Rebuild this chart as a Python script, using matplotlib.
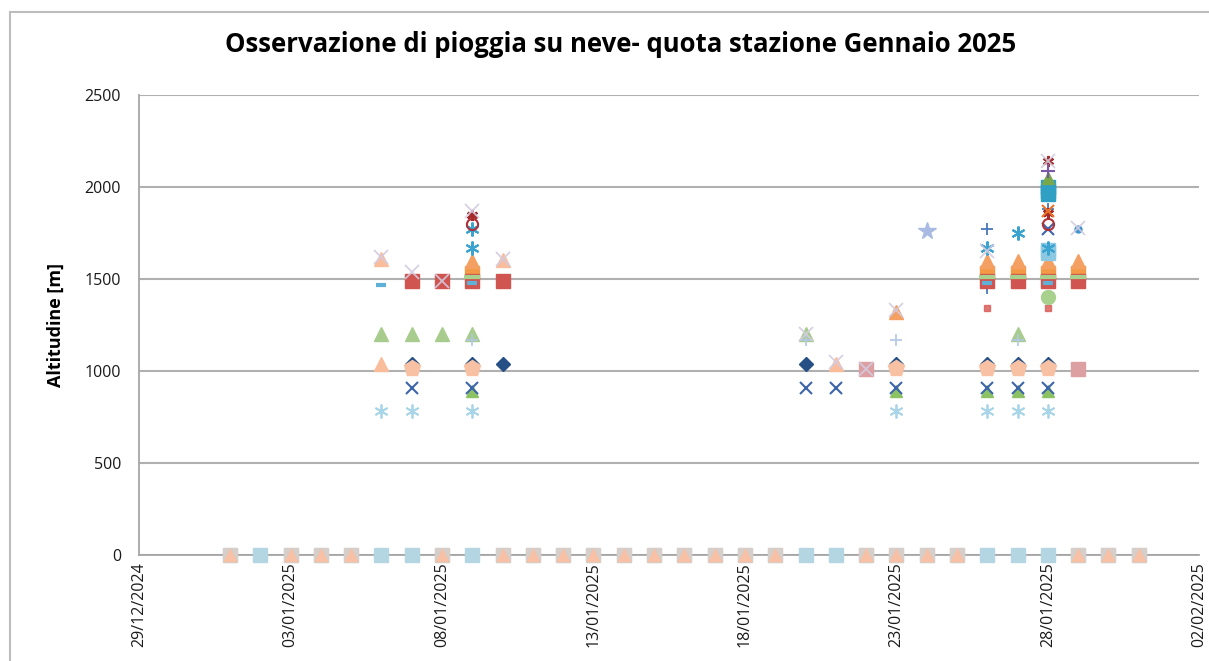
import datetime as dt
import matplotlib
matplotlib.use("Agg")
import matplotlib.pyplot as plt
import matplotlib.dates as mdates
from matplotlib.patches import Rectangle

# ---- data: giorni di gennaio 2025 e quote osservate [m] ----
zero_giorni = list(range(1, 32))
zero_quota = [0] * 31
zero_rosa_giorni = [1, 3, 4, 5, 8, 10, 11, 12, 13, 14, 15, 16, 17, 18, 19, 22, 23, 24, 25, 29, 30, 31]
zero_rosa_quota = [0] * len(zero_rosa_giorni)

asterisco_chiaro_giorni = [6, 7, 9, 23, 26, 27, 28]
asterisco_chiaro_quota = [780, 780, 780, 780, 780, 780, 780]

triangolo_verde_giorni = [9, 23, 26, 27, 28]
triangolo_verde_quota = [890, 890, 890, 890, 890]

x_blu_giorni = [7, 9, 20, 21, 23, 26, 27, 28, 28]
x_blu_quota = [910, 910, 910, 910, 910, 910, 910, 910, 1770]

rombo_blu_giorni = [7, 9, 10, 20, 23, 26, 27, 28]
rombo_blu_quota = [1040, 1040, 1040, 1040, 1040, 1040, 1040, 1040]

pentagono_pesca_giorni = [7, 9, 23, 26, 27, 28]
pentagono_pesca_quota = [1015, 1015, 1015, 1015, 1015, 1015]

triangolo_pesca_giorni = [6, 21, 6, 10]
triangolo_pesca_quota = [1040, 1040, 1610, 1605]

quadrato_rosa_giorni = [22, 29]
quadrato_rosa_quota = [1010, 1010]

triangolo_salvia_giorni = [6, 7, 8, 9, 20, 27]
triangolo_salvia_quota = [1200, 1200, 1200, 1200, 1200, 1200]

croce_chiara_giorni = [9, 20, 23, 27]
croce_chiara_quota = [1170, 1170, 1170, 1170]

trattino_rosso_giorni = [26, 28]
trattino_rosso_quota = [1340, 1340]

cerchio_verde_giorni = [28]
cerchio_verde_quota = [1400]

croce_blu_giorni = [26, 26, 28]
croce_blu_quota = [1450, 1770, 1880]

trattino_azzurro_giorni = [6, 9, 26, 28]
trattino_azzurro_quota = [1470, 1480, 1480, 1480]

quadrato_arancio_giorni = [9, 26, 27, 28, 29]
quadrato_arancio_quota = [1530, 1530, 1530, 1530, 1530]

trattino_verde_giorni = [9, 26, 27, 28, 29]
trattino_verde_quota = [1510, 1510, 1510, 1510, 1510]

quadrato_rosso_giorni = [7, 8, 9, 10, 26, 27, 28, 29]
quadrato_rosso_quota = [1490, 1490, 1490, 1490, 1490, 1490, 1490, 1490]

triangolo_arancio_giorni = [9, 23, 26, 27, 28, 29, 28]
triangolo_arancio_quota = [1600, 1320, 1600, 1600, 1600, 1600, 2030]

quadrato_celeste_giorni = [28, 28]
quadrato_celeste_quota = [1640, 1660]

asterisco_teal_giorni = [9, 9, 26, 28, 27]
asterisco_teal_quota = [1670, 1770, 1670, 1670, 1750]

stella_lavanda_giorni = [24]
stella_lavanda_quota = [1760]

punto_blu_giorni = [29]
punto_blu_quota = [1770]

cerchio_rosso_giorni = [9, 28]
cerchio_rosso_quota = [1800, 1800]

stella_rossa_giorni = [9, 28, 28]
stella_rossa_quota = [1850, 1860, 2140]

x_arancio_giorni = [28]
x_arancio_quota = [1870]

quadrato_teal_giorni = [28, 28, 28]
quadrato_teal_quota = [1960, 1980, 2000]

triangolo_oliva_giorni = [28]
triangolo_oliva_quota = [2050]

croce_viola_giorni = [28]
croce_viola_quota = [2085]

x_pallida_giorni = [6, 7, 8, 9, 10, 20, 21, 22, 23, 26, 28, 29]
x_pallida_quota = [1620, 1540, 1490, 1870, 1610, 1200, 1050, 1010, 1330, 1650, 2140, 1775]

# ---- stile di ciascuna serie (ordine di disegno) ----
ASTERISK = (6, 2, 0)
series = [
    (zero_giorni, zero_quota, dict(marker="s", color="#b4d5e2", ms=10.5)),
    (zero_rosa_giorni, zero_rosa_quota, dict(marker="s", color="#f7c9b3", ms=10.5, alpha=0.45)),
    (zero_rosa_giorni, zero_rosa_quota, dict(marker="^", color="#f8c0a4", ms=8)),
    (asterisco_chiaro_giorni, asterisco_chiaro_quota, dict(marker=ASTERISK, color="#a9d5e8", ms=10, mew=1.3)),
    (triangolo_verde_giorni, triangolo_verde_quota, dict(marker="^", color="#8cc263", ms=9)),
    (x_blu_giorni, x_blu_quota, dict(marker="x", color="#3d66a8", ms=9, mew=1.5)),
    (rombo_blu_giorni, rombo_blu_quota, dict(marker="D", color="#254f85", ms=7.5)),
    (pentagono_pesca_giorni, pentagono_pesca_quota, dict(marker="p", color="#f8c1a4", ms=12)),
    (triangolo_pesca_giorni, triangolo_pesca_quota, dict(marker="^", color="#f9bd9c", ms=10)),
    (quadrato_rosa_giorni, quadrato_rosa_quota, dict(marker="s", color="#dda0a2", ms=10.5)),
    (triangolo_salvia_giorni, triangolo_salvia_quota, dict(marker="^", color="#a7cc8e", ms=10)),
    (croce_chiara_giorni, croce_chiara_quota, dict(marker="+", color="#b3c7e6", ms=9, mew=1.2)),
    (trattino_rosso_giorni, trattino_rosso_quota, dict(marker="s", color="#d9605c", ms=4, alpha=0.85)),
    (cerchio_verde_giorni, cerchio_verde_quota, dict(marker="o", color="#a9d18e", ms=10)),
    (croce_blu_giorni, croce_blu_quota, dict(marker="+", color="#4a78bb", ms=9, mew=1.3)),
    (quadrato_arancio_giorni, quadrato_arancio_quota, dict(marker="s", color="#f39a46", ms=10)),
    (quadrato_rosso_giorni, quadrato_rosso_quota, dict(marker="s", color="#d0544f", ms=10.5)),
    (trattino_verde_giorni, trattino_verde_quota, dict(marker="_", color="#a9d18e", ms=12, mew=3)),
    (trattino_azzurro_giorni, trattino_azzurro_quota, dict(marker="_", color="#5fb0d6", ms=7, mew=3)),
    (triangolo_arancio_giorni, triangolo_arancio_quota, dict(marker="^", color="#f4a062", ms=10)),
    (quadrato_celeste_giorni, quadrato_celeste_quota, dict(marker="s", color="#8dc8e2", ms=10)),
    (asterisco_teal_giorni, asterisco_teal_quota, dict(marker=ASTERISK, color="#3aa3cf", ms=10, mew=1.5)),
    (stella_lavanda_giorni, stella_lavanda_quota, dict(marker="*", color="#a9bbe2", ms=13)),
    (punto_blu_giorni, punto_blu_quota, dict(marker="o", color="#3f97cf", ms=5)),
    (cerchio_rosso_giorni, cerchio_rosso_quota, dict(marker="o", color="#b0303a", ms=8, mfc="none", mew=1.5)),
    (stella_rossa_giorni, stella_rossa_quota, dict(marker=ASTERISK, color="#a52a2a", ms=8, mew=1.8)),
    (x_arancio_giorni, x_arancio_quota, dict(marker="x", color="#e8742b", ms=8, mew=1.5)),
    (quadrato_teal_giorni, quadrato_teal_quota, dict(marker="s", color="#2f9fc4", ms=9.5)),
    (triangolo_oliva_giorni, triangolo_oliva_quota, dict(marker="^", color="#78a84a", ms=9)),
    (croce_viola_giorni, croce_viola_quota, dict(marker="+", color="#7a5aa8", ms=10, mew=1.5)),
    (x_pallida_giorni, x_pallida_quota, dict(marker="x", color="#d4cbe0", ms=10, mew=1.3, alpha=0.9)),
]

plt.rcParams["font.family"] = ["Open Sans", "DejaVu Sans"]

fig = plt.figure(figsize=(12.09, 6.61), dpi=100)
ax = fig.add_axes([0.115, 0.1604, 0.877, 0.6959])

# bordo dell'area grafico (stile Excel)
fig.patches.append(Rectangle((10 / 1209, -0.1), 1.2, 1.1 - 12 / 661, transform=fig.transFigure,
                             fill=False, edgecolor="#bdbdbd", lw=1.5, zorder=0))

# linea grigia della serie a quota zero
ax.plot([dt.datetime(2025, 1, d) for d in zero_giorni], zero_quota, color="#a6a6a6", lw=1.3, zorder=2)

for giorni, quote, st in series:
    ax.plot([dt.datetime(2025, 1, d) for d in giorni], quote, linestyle="none",
            markeredgecolor=st["color"], zorder=3, clip_on=False, **st)

ax.set_xlim(dt.datetime(2024, 12, 29), dt.datetime(2025, 2, 2))
ax.set_ylim(0, 2500)
ax.set_yticks([0, 500, 1000, 1500, 2000, 2500])
ticks = [dt.datetime(2024, 12, 29) + dt.timedelta(days=5 * i) for i in range(8)]
ax.set_xticks(ticks)
ax.xaxis.set_major_formatter(mdates.DateFormatter("%d/%m/%Y"))
for lbl in ax.get_xticklabels():
    lbl.set_rotation(90)

ax.grid(axis="y", color="#b0b0b0", lw=1.5)
ax.set_axisbelow(True)
for side in ["top", "right"]:
    ax.spines[side].set_visible(False)
for side in ["left", "bottom"]:
    ax.spines[side].set_color("#a6a6a6")
    ax.spines[side].set_linewidth(1.3)
ax.tick_params(length=0, labelsize=11.5, colors="#1a1a1a")
ax.tick_params(axis="y", pad=13)
ax.tick_params(axis="x", pad=5)

ax.set_ylabel("Altitudine [m]", fontsize=13, fontweight="bold", labelpad=14)
fig.text(0.513, 0.932, "Osservazione di pioggia su neve- quota stazione Gennaio 2025",
         ha="center", va="center", fontsize=18.5, fontweight="bold")

fig.savefig("out.png", dpi=100)
